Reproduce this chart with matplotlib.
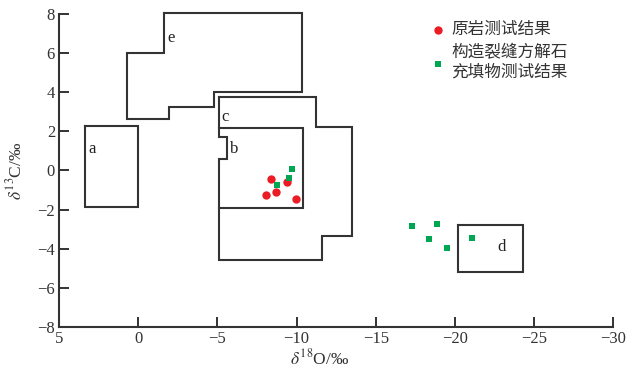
import matplotlib.pyplot as plt

plt.rcParams['mathtext.fontset'] = 'stix'
serif = ['Liberation Serif', 'DejaVu Serif']
cjk = ['Noto Sans CJK SC', 'DejaVu Sans']

# field outlines (delta18O, delta13C)
field_a = [(3.36, 2.29), (0.0, 2.29), (0.0, -1.88), (3.36, -1.88), (3.36, 2.29)]
field_e = [(-1.6, 8.05), (-10.36, 8.05), (-10.36, 4.03), (-4.8, 4.03), (-4.8, 3.23),
           (-1.93, 3.23), (-1.93, 2.65), (0.7, 2.65), (0.7, 6.02), (-1.6, 6.02), (-1.6, 8.05)]
field_c = [(-5.1, 3.74), (-11.23, 3.74), (-11.23, 2.24), (-13.52, 2.24), (-13.52, -3.33),
           (-11.59, -3.33), (-11.59, -4.58), (-5.1, -4.58), (-5.1, 0.57), (-5.58, 0.57),
           (-5.58, 1.70), (-5.1, 1.70), (-5.1, 3.74)]
field_b = [(-5.1, 2.19), (-10.42, 2.19), (-10.42, -1.90), (-5.1, -1.90)]
field_d = [(-20.22, -2.79), (-24.29, -2.79), (-24.29, -5.17), (-20.22, -5.17), (-20.22, -2.79)]
fields = [field_a, field_e, field_c, field_b, field_d]

field_names = ['a', 'e', 'c', 'b', 'd']
name_x = [2.95, -2.04, -5.47, -6.06, -22.96]
name_y = [1.08, 6.79, 2.72, 1.10, -3.90]

# host rock samples
rock_o = [-8.36, -9.37, -8.70, -8.05, -9.96]
rock_c = [-0.45, -0.57, -1.08, -1.25, -1.46]
# calcite fill in fractures
vein_o = [-9.73, -9.52, -8.78, -17.29, -18.86, -18.35, -19.49, -21.09]
vein_c = [0.09, -0.40, -0.74, -2.85, -2.72, -3.49, -3.95, -3.44]

xticks = [5, 0, -5, -10, -15, -20, -25, -30]
yticks = [8, 6, 4, 2, 0, -2, -4, -6, -8]

fig = plt.figure(figsize=(6.34, 3.70), dpi=100)
ax = fig.add_axes([0.0935, 0.1162, 0.8734, 0.846])

for f in fields:
    xs, ys = zip(*f)
    ax.plot(xs, ys, color='#333333', lw=1.5, clip_on=False, solid_joinstyle='miter')
for n, x, y in zip(field_names, name_x, name_y):
    ax.text(x, y, n, fontsize=12, family=serif, ha='center', va='center', color='#222222')

p1 = ax.scatter(rock_o, rock_c, s=36, marker='o', color='#ec1c24', linewidths=0, zorder=3)
p2 = ax.scatter(vein_o, vein_c, s=24, marker='s', color='#00a651', linewidths=0, zorder=3)

ax.set_xlim(5, -30)
ax.set_ylim(-8, 8)
ax.set_xticks(xticks)
ax.set_yticks(yticks)
ax.set_xticklabels(['%d' % t if t >= 0 else '\u2212%d' % -t for t in xticks], family=serif, fontsize=12)
ax.set_yticklabels(['%d' % t if t >= 0 else '\u2212%d' % -t for t in yticks], family=serif, fontsize=12)
ax.tick_params(direction='in', length=7, width=1.4, color='#333333', labelcolor='#333333', pad=3)
for s in ['top', 'right']:
    ax.spines[s].set_visible(False)
for s in ['left', 'bottom']:
    ax.spines[s].set_linewidth(1.5)
    ax.spines[s].set_color('#333333')

ax.set_xlabel(r'$\delta^{18}$O/‰', family=serif, fontsize=12.5, color='#333333')
ax.set_ylabel(r'$\delta^{13}$C/‰', family=serif, fontsize=12.5, color='#333333')
ax.xaxis.set_label_coords(0.471, -0.068)
ax.yaxis.set_label_coords(-0.062, 0.5)

ax.legend([p1, p2], ['原岩测试结果', '构造裂缝方解石\n充填物测试结果'],
          loc='upper left', bbox_to_anchor=(0.648, 1.015), frameon=False,
          prop={'family': cjk, 'size': 12}, handletextpad=0.3, labelspacing=0.35,
          borderpad=0.2, handlelength=1.0, labelcolor='#333333')

fig.savefig('out.png', dpi=100)
